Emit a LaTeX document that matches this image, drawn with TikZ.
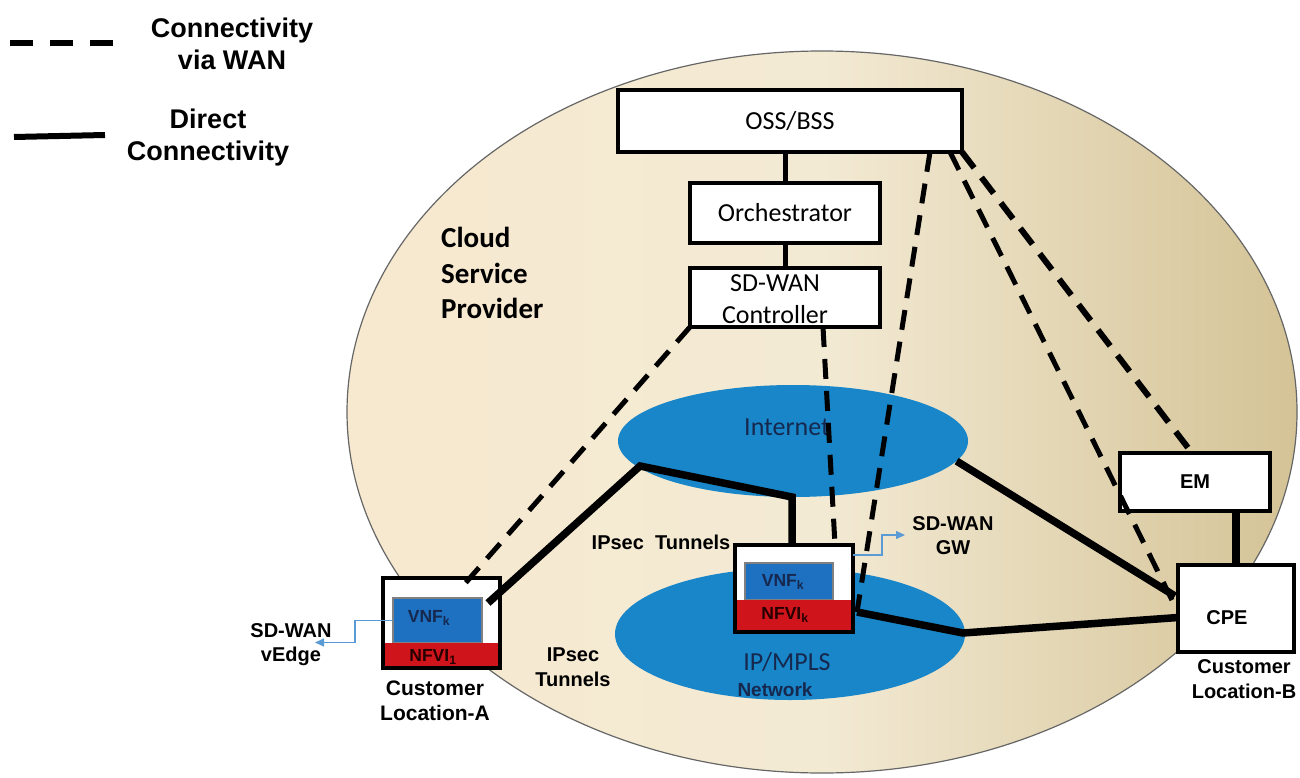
\documentclass[tikz,border=0pt]{standalone}
\usepackage{fontspec}
\setmainfont{Liberation Sans}
\newfontfamily\calib{Carlito}
\usetikzlibrary{shapes.geometric,arrows.meta,calc}
\definecolor{navy}{RGB}{22,40,78}
\definecolor{netblue}{RGB}{24,134,200}
\definecolor{vnfblue}{RGB}{30,112,192}
\definecolor{nfvired}{RGB}{208,20,28}
\definecolor{sdblue}{RGB}{91,155,213}
\definecolor{cspL}{RGB}{247,233,207}
\definecolor{cspM}{RGB}{243,234,212}
\definecolor{cspR}{RGB}{212,195,150}
\begin{document}
\begin{tikzpicture}[x=1pt,y=-1pt,
  box/.style={draw,line width=4pt,fill=white,inner sep=0pt,outer sep=0pt,align=center},
  wan/.style={line width=5pt,dash pattern=on 20pt off 12pt},
  direct/.style={line width=7.5pt},
  ctrlline/.style={line width=5pt},
  sdarrow/.style={draw=sdblue,line width=1.3pt,-{Triangle[length=9pt,width=8pt]}},
  netell/.style={ellipse,fill=netblue,inner sep=0pt},
  lbl/.style={font=\bfseries\fontsize{20}{25}\selectfont,align=center,inner sep=0pt},
  calfont/.style={font=\calib\fontsize{26}{31}\selectfont},
  vnfbox/.style={draw=gray,line width=2pt,fill=vnfblue,inner sep=0pt,outer sep=0pt},
  nfvibox/.style={fill=nfvired,inner sep=0pt,outer sep=0pt},
  vnftext/.style={font=\bfseries\fontsize{17.5}{20}\selectfont,text=navy,inner sep=0pt},
  nfvitext/.style={font=\bfseries\fontsize{17.5}{20}\selectfont,text=black!85!red,inner sep=0pt}
]
\useasboundingbox (0,0) rectangle (1300,778);

% legend
\coordinate (lgd1) at (10,43);
\coordinate (lgd2) at (113,43);
\draw[line width=6pt,dash pattern=on 23pt off 17pt] (lgd1) -- (lgd2);
\coordinate (lgs1) at (14,137);
\coordinate (lgs2) at (105,135);
\draw[line width=6pt] (lgs1) -- (lgs2);
\node[font=\bfseries\fontsize{27}{32}\selectfont,align=center,inner sep=0pt] (lgwan) at (232,44) {Connectivity\\via WAN};
\node[font=\bfseries\fontsize{27}{32}\selectfont,align=center,inner sep=0pt] (lgdir) at (208,138) {Direct\\Connectivity};

% cloud service provider
\node[ellipse,draw=gray!80!black,line width=1.2pt,minimum width=950pt,minimum height=722pt,
      left color=cspL,right color=cspR,middle color=cspM,inner sep=0pt] (csp) at (822,412) {};
\node[font=\calib\bfseries\fontsize{29}{35.5}\selectfont,align=left,anchor=west,inner sep=0pt] (csptxt) at (441,273) {Cloud\\Service\\Provider};

% networks
\node[netell,minimum width=350pt,minimum height=112pt] (internet) at (793,441) {};
\node[netell,minimum width=350pt,minimum height=132pt] (ipmpls) at (790,634) {};
\node[calfont,text=navy,inner sep=0pt] (inttxt) at (787,427) {Internet};
\node[calfont,text=navy,inner sep=0pt] (iptxt) at (787,662) {IP/MPLS};
\node[font=\bfseries\fontsize{19}{22}\selectfont,text=navy,inner sep=0pt] (nettxt) at (775,690) {Network};

% management boxes
\node[box,calfont,minimum width=344pt,minimum height=62pt] (oss) at (790,121) {OSS/BSS};
\node[box,calfont,minimum width=190pt,minimum height=60pt] (orch) at (785,213) {Orchestrator};
\node[box,minimum width=190pt,minimum height=59pt] (ctrl) at (785,297.5) {};
\node[calfont,align=center,inner sep=0pt,font=\calib\fontsize{26}{32}\selectfont] (ctrltxt) at (775,299) {SD-WAN\\Controller};

% EM and CPE
\node[box,minimum width=150pt,minimum height=58pt,font=\bfseries\fontsize{20}{24}\selectfont] (em) at (1195,482) {EM};
\node[box,minimum width=116pt,minimum height=87pt] (cpe) at (1236,608.5) {};
\node[lbl] (cpetxt) at (1227,618) {CPE};

% Customer location A
\node[box,minimum width=117pt,minimum height=90pt] (locA) at (441.5,623) {};
\node[vnfbox,minimum width=89pt,minimum height=45pt] (vnfA) at (437.5,620.5) {};
\node[nfvibox,minimum width=117pt,minimum height=25pt] (nfviA) at (441.5,655.5) {};
\draw[line width=4pt] (locA.north west) rectangle (locA.south east);
\node[vnftext] (vnfAt) at (429,618) {VNF\textsubscript{k}};
\node[nfvitext] (nfviAt) at (433,657) {NFVI\textsubscript{1}};

% SD-WAN GW
\node[box,minimum width=118pt,minimum height=87pt] (gw) at (794,588.5) {};
\node[vnfbox,minimum width=88pt,minimum height=37pt] (vnfG) at (789,581.5) {};
\node[nfvibox,minimum width=118pt,minimum height=32pt] (nfviG) at (794,616) {};
\draw[line width=4pt] (gw.north west) rectangle (gw.south east);
\node[vnftext] (vnfGt) at (783,582) {VNF\textsubscript{k}};
\node[nfvitext] (nfviGt) at (785,615) {NFVI\textsubscript{k}};

% labels
\node[lbl,font=\bfseries\fontsize{21}{25}\selectfont] (custA) at (435,700.5) {Customer\\Location-A};
\node[lbl] (custB) at (1244,679.5) {Customer\\Location-B};
\node[lbl,font=\bfseries\fontsize{20}{24}\selectfont] (vedge) at (291,645) {SD-WAN\\vEdge};
\node[lbl,font=\bfseries\fontsize{20}{24}\selectfont] (gwlbl) at (953,536) {SD-WAN\\GW};
\node[lbl] (ipsec1) at (661,542) {IPsec\ \ Tunnels};
\node[lbl] (ipsec2) at (573,667.5) {IPsec\\Tunnels};

% direct management links
\draw[ctrlline] (orch.north) -- (orch.north |- oss.south);
\draw[ctrlline] (orch.south) -- (ctrl.north);
\draw[line width=8pt] (cpe.north) -- (cpe.north |- em.south);

% WAN (dashed) links
\coordinate (aDash) at (462,587);
\draw[wan] (ctrl.south west) -- (aDash);
\draw[wan] ([xshift=38pt]ctrl.south) -- ([xshift=41pt]gw.north);
\coordinate (gwR) at (857,612);
\draw[wan] ([xshift=140pt]oss.south) -- (gwR);
\coordinate (cpeDash) at (1172,600);
\draw[wan] ([xshift=160pt]oss.south) -- (cpeDash);
\draw[wan,line width=6pt] (oss.south east) -- ([xshift=-3pt]em.north);

% direct (solid) links
\coordinate (aSol) at (488,603);
\coordinate (k1) at (640,466);
\coordinate (k2) at (792,497);
\draw[direct] (aSol) -- (k1) -- (k2) -- ([xshift=-2pt]gw.north);
\coordinate (cpeIn) at (1175,596);
\draw[direct] (internet.-7) -- (cpeIn);
\coordinate (k3) at (963,633);
\draw[direct] (gwR) -- (k3) -- ([yshift=-9pt]cpe.west);

% SD-WAN pointers
\draw[sdarrow] (vnfA.west) -- ++(-38,0) -- ++(0,22) -- ++(-40,0);
\draw[sdarrow] ([yshift=33.5pt]gw.east) -- ++(29,0) -- ++(0,-20) -- ++(23,0);
\end{tikzpicture}
\end{document}
